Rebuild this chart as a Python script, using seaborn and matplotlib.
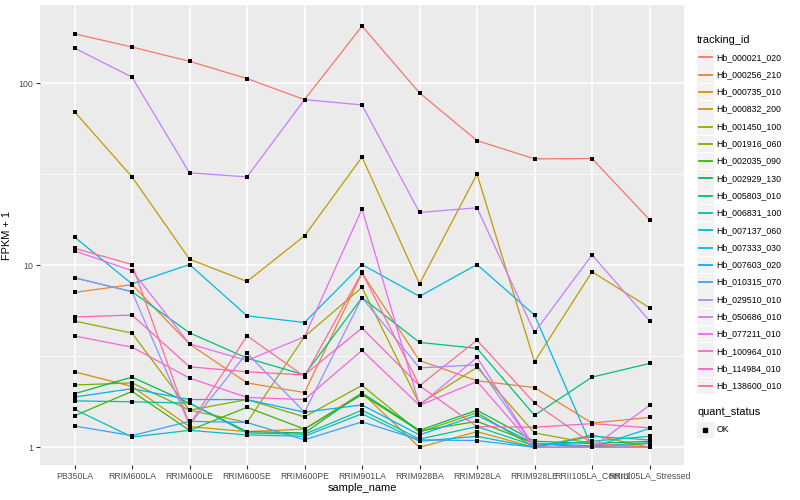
import matplotlib
matplotlib.use("Agg")
import matplotlib.pyplot as plt
import matplotlib.patches as patches
from matplotlib.lines import Line2D
import seaborn as sns
import numpy as np
import pandas as pd

# data (FPKM + 1, log scale)
samples = ["PB350LA", "RRIM600LA", "RRIM600LE", "RRIM600SE", "RRIM600PE", "RRIM901LA",
           "RRIM928BA", "RRIM928LA", "RRIM928LE", "RRII105LA_Control", "RRII105LA_Stressed"]

tracking_ids = ["Hb_000021_020", "Hb_000256_210", "Hb_000735_010", "Hb_000832_200",
                "Hb_001450_100", "Hb_001916_060", "Hb_002035_090", "Hb_002929_130",
                "Hb_005803_010", "Hb_006831_100", "Hb_007137_060", "Hb_007333_030",
                "Hb_007603_020", "Hb_010315_070", "Hb_029510_010", "Hb_050686_010",
                "Hb_077211_010", "Hb_100964_010", "Hb_114984_010", "Hb_138600_010"]

hb_000021_020 = [187, 158, 132, 106, 81.3, 206, 88.5, 48.4, 38.4, 38.6, 17.8]
hb_000256_210 = [7.10, 7.83, 3.69, 2.26, 2.0, 9.06, 3.0, 2.32, 2.13, 1.36, 1.46]
hb_000735_010 = [2.60, 2.16, 1.30, 1.22, 1.26, 1.99, 1.0, 1.22, 1.0, 1.17, 1.0]
hb_000832_200 = [69.8, 30.6, 10.8, 8.15, 14.5, 39.3, 7.91, 31.7, 2.95, 9.21, 5.85]
hb_001450_100 = [4.94, 4.24, 1.60, 1.37, 4.06, 7.56, 1.73, 2.75, 1.20, 1.05, 1.0]
hb_001916_060 = [2.20, 2.26, 1.60, 1.83, 1.47, 2.19, 1.21, 1.55, 1.0, 1.0, 1.05]
hb_002035_090 = [1.49, 2.03, 1.24, 1.66, 1.26, 1.95, 1.23, 1.39, 1.05, 1.0, 1.0]
hb_002929_130 = [1.97, 2.43, 1.75, 1.22, 1.20, 1.99, 1.24, 1.60, 1.08, 1.05, 1.08]
hb_005803_010 = [8.54, 7.16, 4.26, 3.09, 2.50, 6.64, 3.77, 3.50, 1.50, 2.43, 2.89]
hb_006831_100 = [1.80, 1.78, 1.75, 1.20, 1.18, 1.60, 1.11, 1.30, 1.02, 1.08, 1.15]
hb_007137_060 = [1.62, 1.14, 1.24, 1.17, 1.15, 1.53, 1.08, 1.15, 1.0, 1.15, 1.10]
hb_007333_030 = [14.3, 7.90, 10.1, 5.28, 4.85, 10.1, 6.75, 10.1, 5.33, 1.0, 1.27]
hb_007603_020 = [1.89, 2.10, 1.83, 1.83, 1.56, 1.71, 1.17, 1.50, 1.05, 1.02, 1.06]
hb_010315_070 = [1.31, 1.16, 1.39, 1.37, 1.10, 1.38, 1.10, 1.09, 1.0, 1.0, 1.0]
hb_029510_010 = [8.54, 7.16, 1.33, 3.30, 1.56, 6.64, 2.73, 2.84, 1.0, 1.0, 1.0]
hb_050686_010 = [156, 108, 32.2, 30.6, 81.3, 76, 19.5, 20.7, 4.28, 11.4, 4.96]
hb_077211_010 = [12.0, 9.34, 3.70, 3.0, 4.05, 20.4, 1.70, 3.12, 1.0, 1.0, 1.70]
hb_100964_010 = [4.09, 3.55, 2.40, 1.88, 1.83, 3.41, 1.70, 2.30, 1.0, 1.0, 1.0]
hb_114984_010 = [5.20, 5.33, 2.77, 2.60, 2.50, 4.52, 2.18, 1.30, 1.29, 1.35, 1.28]
hb_138600_010 = [12.4, 10.1, 1.33, 4.10, 2.45, 9.13, 2.18, 3.88, 1.75, 1.05, 1.0]

series = [hb_000021_020, hb_000256_210, hb_000735_010, hb_000832_200, hb_001450_100,
          hb_001916_060, hb_002035_090, hb_002929_130, hb_005803_010, hb_006831_100,
          hb_007137_060, hb_007333_030, hb_007603_020, hb_010315_070, hb_029510_010,
          hb_050686_010, hb_077211_010, hb_100964_010, hb_114984_010, hb_138600_010]

# ggplot default hue palette for 20 levels
colors = ["#F8766D", "#EA8331", "#D89000", "#C09B00", "#A3A500", "#7CAE00", "#39B600",
          "#00BB4E", "#00BF7D", "#00C1A3", "#00BFC4", "#00BAE0", "#00B0F6", "#35A2FF",
          "#9590FF", "#C77CFF", "#E76BF3", "#FA62DB", "#FF62BC", "#FF6C91"]

rows = []
for tid, vals in zip(tracking_ids, series):
    for s, v in zip(samples, vals):
        rows.append({"tracking_id": tid, "sample_name": s, "fpkm": v, "quant_status": "OK"})
df = pd.DataFrame(rows)
df["x"] = df["sample_name"].map({s: i for i, s in enumerate(samples)})

plt.rcParams['font.family'] = ['Liberation Sans', 'DejaVu Sans']

fig = plt.figure(figsize=(8, 5), dpi=100)
ax = fig.add_axes([0.05, 0.07, 0.805, 0.92])
ax.set_facecolor("#EBEBEB")

sns.lineplot(data=df, x="x", y="fpkm", hue="tracking_id", palette=colors,
             hue_order=tracking_ids, sort=False, linewidth=0.9, legend=False, ax=ax, zorder=3)
sns.scatterplot(data=df, x="x", y="fpkm", color="black", marker="s", s=7,
                linewidth=0, legend=False, ax=ax, zorder=4)

ax.set_yscale("log")
ax.set_ylim(0.80, 269)
ax.set_xlim(-0.6, len(samples) - 0.4)

# grid like ggplot
ax.set_yticks([1, 10, 100])
ax.set_yticklabels(["1", "10", "100"])
ax.set_yticks([10 ** 0.5, 10 ** 1.5], minor=True)
ax.yaxis.set_minor_formatter(matplotlib.ticker.NullFormatter())
ax.set_xticks(range(len(samples)))
ax.set_xticklabels(samples)
ax.grid(which="major", color="white", linewidth=1.1, zorder=0)
ax.grid(which="minor", axis="y", color="white", linewidth=0.55, zorder=0)
ax.set_axisbelow(True)
ax.tick_params(axis="both", which="major", length=2.8, width=0.8, color="#333333",
               labelsize=6.3, labelcolor="#4D4D4D", pad=2)
ax.tick_params(axis="y", which="minor", length=0)
for sp in ax.spines.values():
    sp.set_visible(False)

ax.set_xlabel("sample_name", fontsize=7.9, labelpad=2)
ax.set_ylabel("FPKM + 1", fontsize=7.9)
ax.yaxis.set_label_coords(-0.044, 0.5)

# legend drawn ggplot-style on the right
W, H = 800, 500
def fx(px):
    return px / W
def fy(py):
    return 1 - py / H

fig.text(fx(697), fy(40), "tracking_id", fontsize=7.9, va="center", ha="left")
for i, (tid, c) in enumerate(zip(tracking_ids, colors)):
    yc = 57.3 + i * 17.3
    fig.add_artist(patches.Rectangle((fx(697), fy(yc + 8.3)), 16.6 / W, 16.6 / H,
                                     transform=fig.transFigure, facecolor="#F2F2F2",
                                     edgecolor="none"))
    fig.add_artist(Line2D([fx(699), fx(711.5)], [fy(yc), fy(yc)], color=c,
                          linewidth=1.3, transform=fig.transFigure))
    fig.text(fx(716.5), fy(yc), tid, fontsize=6.3, va="center", ha="left")

fig.text(fx(697), fy(412), "quant_status", fontsize=7.9, va="center", ha="left")
fig.add_artist(patches.Rectangle((fx(697), fy(438.3)), 16.6 / W, 16.6 / H,
                                 transform=fig.transFigure, facecolor="#F2F2F2",
                                 edgecolor="none"))
fig.add_artist(Line2D([fx(705.3)], [fy(430)], marker="s", markersize=2.6, color="black",
                      linestyle="none", transform=fig.transFigure))
fig.text(fx(716.5), fy(430), "OK", fontsize=6.3, va="center", ha="left")

fig.savefig("out.png", dpi=100)
